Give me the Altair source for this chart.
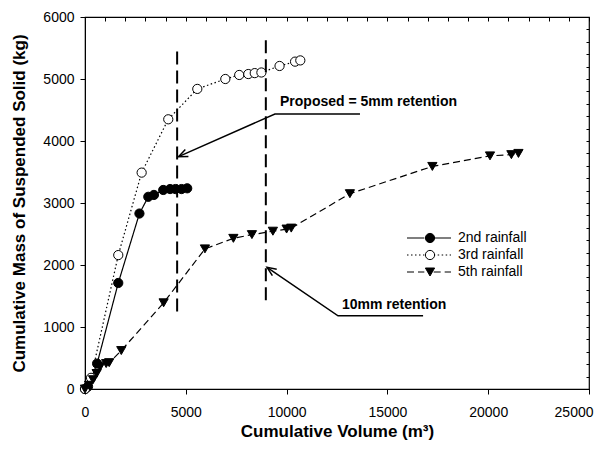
import math
import altair as alt
import pandas as pd

# ---------------- data ----------------
series_names = ["2nd rainfall", "3rd rainfall", "5th rainfall"]

vol_2nd = [0, 150, 600, 1650, 2700, 3140, 3420, 3880, 4220, 4490, 4790, 5070]
mass_2nd = [0, 40, 410, 1710, 2830, 3100, 3130, 3210, 3225, 3225, 3225, 3237]

vol_3rd = [0, 300, 1650, 2810, 4130, 5570, 6960, 7650, 8100, 8420, 8750, 9650, 10420, 10680]
mass_3rd = [0, 180, 2160, 3490, 4350, 4840, 5000, 5065, 5080, 5095, 5105, 5210, 5280, 5300]

vol_5th = [0, 200, 400, 580, 750, 1050, 1200, 1800, 3900, 5950, 7360, 8280, 9320,
           10000, 10230, 13140, 17230, 20090, 21150, 21500]
mass_5th = [0, 60, 150, 250, 360, 410, 425, 620, 1390, 2260, 2430, 2490, 2545,
            2580, 2595, 3150, 3590, 3760, 3780, 3800]

# retention marker lines (vertical dashed)
ret_vol = [4570, 8970]
ret_top = [5470, 5660]
ret_bottom = [1250, 1430]

# annotation leader lines (tail -> elbow -> tip)
arrow1_x = [13640, 9420, 4640]
arrow1_y = [4435, 4435, 3747]
arrow2_x = [16770, 12550, 9030]
arrow2_y = [1180, 1180, 1963]

ann_text = ["Proposed = 5mm retention", "10mm retention"]
ann_x = [9673, 12748]
ann_y = [4565, 1290]

x_major = [0, 5000, 10000, 15000, 20000, 25000]
y_major = [0, 1000, 2000, 3000, 4000, 5000, 6000]

# ---------------- layout ----------------
W, H = 504, 372
X_MAX, Y_MAX = 25000, 6000
FONT = "Liberation Sans"

rows = []
for name, xs_, ys_ in zip(series_names, [vol_2nd, vol_3rd, vol_5th], [mass_2nd, mass_3rd, mass_5th]):
    for i, (a, b) in enumerate(zip(xs_, ys_)):
        rows.append({"series": name, "line_series": name, "vol": a, "mass": b, "order": i})
df = pd.DataFrame(rows)

ret_df = pd.DataFrame({"vol": ret_vol, "top": ret_top, "bottom": ret_bottom})

lead_rows = []
head_rows = []
for aid, (ax, ay) in enumerate([(arrow1_x, arrow1_y), (arrow2_x, arrow2_y)]):
    for i, (a, b) in enumerate(zip(ax, ay)):
        lead_rows.append({"arrow": aid, "order": i, "vol": a, "mass": b})
    dx = (ax[-1] - ax[-2]) * W / X_MAX
    dy = -(ay[-1] - ay[-2]) * H / Y_MAX
    ang = math.degrees(math.atan2(dx, -dy)) % 360
    head_rows.append({"vol": ax[-1], "mass": ay[-1], "angle": ang})
lead_df = pd.DataFrame(lead_rows)
head_df = pd.DataFrame(head_rows)
ann_df = pd.DataFrame({"text": ann_text, "vol": ann_x, "mass": ann_y})

xs = alt.Scale(domain=[0, X_MAX], nice=False, zero=False)
ys = alt.Scale(domain=[0, Y_MAX], nice=False, zero=False)

x_axis_major = alt.Axis(values=x_major, format="d", title="Cumulative Volume (m³)", grid=False,
                        tickSize=5, tickColor="black", domainColor="black",
                        labelFlush=True, labelFlushOffset=4,
                        labelFont=FONT, labelFontSize=14, labelColor="black", labelPadding=11,
                        titleFont=FONT, titleFontSize=17, titleFontWeight="bold",
                        titleColor="black", titlePadding=4)
y_axis_major = alt.Axis(values=y_major, format="d", title="Cumulative Mass of Suspended Solid (kg)",
                        grid=False, tickSize=5, tickColor="black", domainColor="black",
                        labelFont=FONT, labelFontSize=14, labelColor="black", labelPadding=6,
                        titleFont=FONT, titleFontSize=17, titleFontWeight="bold",
                        titleColor="black", titlePadding=14)
x_axis_minor = alt.Axis(values=list(range(0, 25001, 1000)), labels=False, domain=False, grid=False,
                        tickSize=4, offset=-4, tickColor="black", title=None)
y_axis_minor = alt.Axis(values=list(range(0, 6001, 200)), labels=False, domain=False, grid=False,
                        tickSize=3, offset=-3, tickColor="black", title=None)

LEG_X, LEG_Y = 337, 214

line_legend = alt.Legend(orient="none", legendX=LEG_X, legendY=LEG_Y, title=None, padding=0,
                         symbolType="M-4,0L-0.85,0M0.85,0L4,0", symbolSize=121,
                         symbolStrokeColor="black", symbolStrokeWidth=1.2,
                         labelFont=FONT, labelFontSize=14, labelColor="black",
                         labelOffset=22, rowPadding=3)
pt_legend = alt.Legend(orient="none", legendX=LEG_X + 1, legendY=LEG_Y, title=None, padding=0,
                       symbolStrokeColor="black", symbolStrokeWidth=1, symbolSize=85,
                       labelFont=FONT, labelFontSize=14, labelOpacity=0,
                       labelOffset=22, rowPadding=3)

lines = alt.Chart(df).mark_line(color="black", strokeWidth=1.2).encode(
    x=alt.X("vol:Q", scale=xs, axis=x_axis_major),
    y=alt.Y("mass:Q", scale=ys, axis=y_axis_major),
    strokeDash=alt.StrokeDash("line_series:N",
                              scale=alt.Scale(range=[[1, 0], [1.5, 2.5], [7, 4]]),
                              legend=line_legend),
    order="order:Q",
)

points = alt.Chart(df).mark_point(filled=True, strokeWidth=1, size=85, opacity=1).encode(
    x=alt.X("vol:Q", scale=xs, axis=x_axis_minor),
    y=alt.Y("mass:Q", scale=ys, axis=y_axis_minor),
    shape=alt.Shape("series:N", scale=alt.Scale(domain=series_names,
                    range=["circle", "circle", "triangle-down"]), legend=pt_legend),
    fill=alt.Fill("series:N", scale=alt.Scale(domain=series_names,
                  range=["black", "white", "black"]), legend=pt_legend),
    stroke=alt.Stroke("series:N", scale=alt.Scale(domain=series_names,
                      range=["black", "black", "black"]), legend=pt_legend),
)

ret_rules = alt.Chart(ret_df).mark_rule(color="black", strokeWidth=2, strokeDash=[13, 6]).encode(
    x=alt.X("vol:Q", scale=xs, axis=None),
    y=alt.Y("bottom:Q", scale=ys, axis=None),
    y2="top:Q",
)

leaders = alt.Chart(lead_df).mark_line(color="black", strokeWidth=1.5).encode(
    x=alt.X("vol:Q", scale=xs, axis=None),
    y=alt.Y("mass:Q", scale=ys, axis=None),
    detail="arrow:N",
    order="order:Q",
)

heads = alt.Chart(head_df).mark_point(shape="M-0.55,1.3L0,0L0.55,1.3", filled=False,
                                      stroke="black", strokeWidth=1.5, size=196, opacity=1).encode(
    x=alt.X("vol:Q", scale=xs, axis=None),
    y=alt.Y("mass:Q", scale=ys, axis=None),
    angle=alt.Angle("angle:Q", scale=None),
)

texts = alt.Chart(ann_df).mark_text(font=FONT, fontSize=14, fontWeight="bold", align="left",
                                    baseline="alphabetic", color="black").encode(
    x=alt.X("vol:Q", scale=xs, axis=None),
    y=alt.Y("mass:Q", scale=ys, axis=None),
    text="text:N",
)

chart = alt.layer(lines, points, ret_rules, leaders, heads, texts).resolve_axis(
    x="independent", y="independent"
).properties(
    width=W, height=H,
    padding={"left": 77, "top": 9, "right": 13, "bottom": 52},
    autosize=alt.AutoSizeParams(type="none"),
).configure_view(stroke="black", strokeWidth=1.2)

chart.save("out.html", embed_options={"renderer": "svg", "actions": False})
